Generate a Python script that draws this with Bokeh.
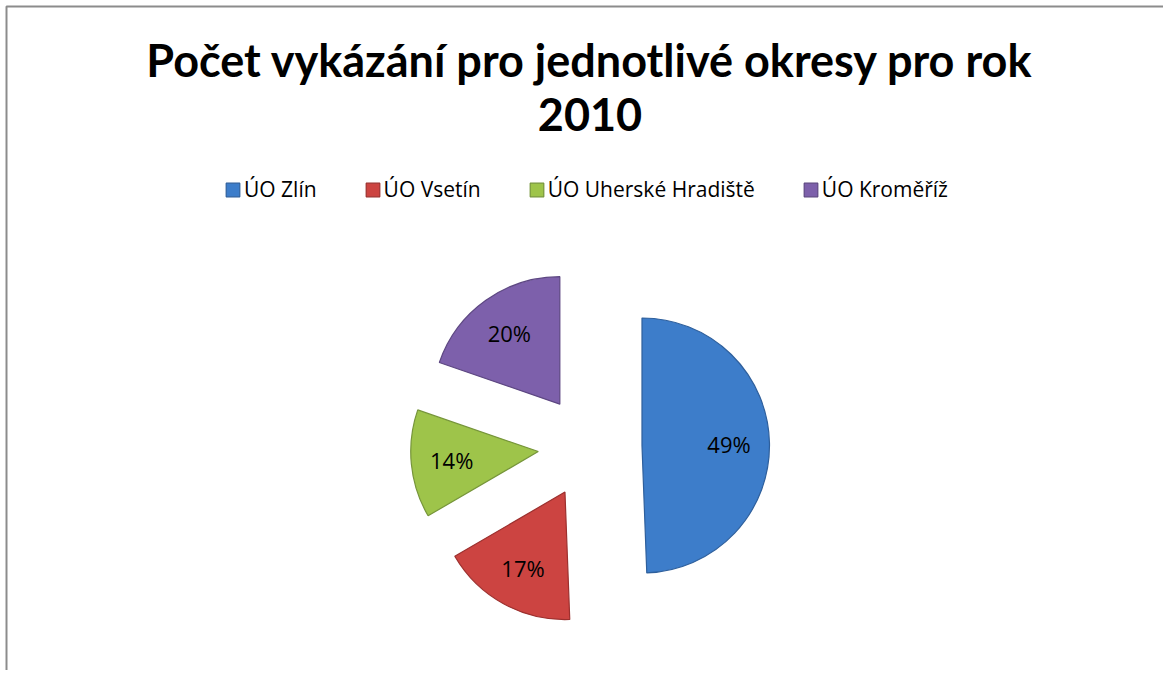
import numpy as np
from bokeh.plotting import figure
from bokeh.models import ColumnDataSource, Range1d, BoxAnnotation
from bokeh.core.properties import value
from bokeh.embed import file_html
from bokeh.resources import INLINE

# ---- data ----
categories = ["ÚO Zlín", "ÚO Vsetín", "ÚO Uherské Hradiště", "ÚO Kroměříž"]
values = [49.4, 17.2, 13.7, 19.7]
colors = ["#3D7DCA", "#CC4441", "#9EC44A", "#7D60AB"]
edge_colors = ["#2E5F9C", "#9C302E", "#76953A", "#5D4782"]
title_lines = ["Počet vykázání pro jednotlivé okresy pro rok", "2010"]

# ---- layout ----
W, H = 1163, 670
cx, cy, R, explode, label_r = 589.5, 224.0, 127.5, 52.0, 87.0

p = figure(width=W, height=H, x_range=Range1d(0, W), y_range=Range1d(0, H),
           output_backend="svg", toolbar_location=None, min_border=0)
p.axis.visible = False
p.grid.visible = False
p.outline_line_color = None
p.background_fill_color = "white"
p.border_fill_color = "white"

vals = np.array(values, dtype=float)
frac = vals / vals.sum()
cum_end = np.cumsum(frac)
cum_start = cum_end - frac
start = np.pi / 2 - 2 * np.pi * cum_start
end = np.pi / 2 - 2 * np.pi * cum_end
mid = (start + end) / 2
xs = cx + explode * np.cos(mid)
ys = cy + explode * np.sin(mid)

src = ColumnDataSource(dict(
    x=xs, y=ys, start=start, end=end, color=colors, edge=edge_colors,
    label=categories,
    lx=xs + label_r * np.cos(mid), ly=ys + label_r * np.sin(mid),
    pct=[f"{round(f * 100)}%" for f in frac],
))

p.wedge(x="x", y="y", radius=R, radius_units="screen", start_angle="start",
        end_angle="end", direction="clock", fill_color="color",
        line_color="edge", line_width=1.2, legend_field="label", source=src)

p.text(x="lx", y="ly", text="pct", source=src, text_font=value("Open Sans"),
       text_font_size="22px", text_align="center", text_baseline="middle",
       text_color="black")

# title
tsrc = ColumnDataSource(dict(x=[589.5, 589.5], y=[611.0, 556.5], t=title_lines))
p.text(x="x", y="y", text="t", source=tsrc, text_font=value("Lato"),
       text_font_style="bold", text_font_size="45px", text_align="center",
       text_baseline="alphabetic", text_color="black")

# legend
lg = p.legend[0]
lg.orientation = "horizontal"
lg.location = (224, 467)
lg.label_text_font = "Open Sans"
lg.label_text_font_size = "21px"
lg.label_text_color = "black"
lg.label_height = 20
lg.glyph_width = 17
lg.glyph_height = 17
lg.label_standoff = 3
lg.spacing = 47
lg.padding = 0
lg.margin = 0
lg.border_line_color = None
lg.background_fill_alpha = 0

# chart border (only left and top edges fall inside the picture)
p.add_layout(BoxAnnotation(left=6, right=W + 20, bottom=-20, top=H - 6,
                           fill_alpha=0, line_color="#8C8C8C", line_alpha=1.0,
                           line_width=2))

open("out.html", "w").write(file_html(p, INLINE))
